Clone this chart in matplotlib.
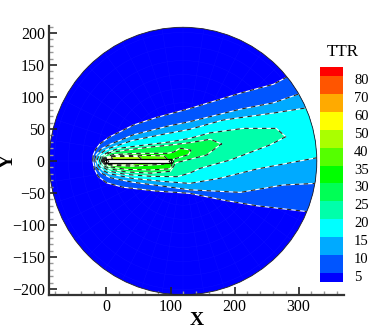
import numpy as np
import matplotlib
matplotlib.use("Agg")
import matplotlib.pyplot as plt
from matplotlib.patches import Circle, Rectangle
from matplotlib.ticker import MultipleLocator
from matplotlib.transforms import ScaledTranslation

plt.rcParams['font.family'] = ['Liberation Serif', 'DejaVu Serif']

legend_labels = [5, 10, 15, 20, 25, 30, 35, 40, 50, 60, 70, 80]
legend_colors = ['#0000ff', '#0055ff', '#00aaff', '#00ffff', '#00ffaa', '#00ff55', '#00ff00',
                 '#55ff00', '#aaff00', '#ffff00', '#ffaa00', '#ff5500', '#ff0000']

# contour boundaries (X, Y): upper side from nose to tail, then lower side back to nose
c5_x = [-21.6, -20.5, -17, -10, 5.5, 41.6, 78, 130, 209, 261, 283, 400, 400, 313, 235, 182, 130, 78, 26, 0, -13, -19, -21.6]
c5_y = [2, 10, 18, 27, 38, 56, 68, 82, 106, 120, 132, 170, -110, -79, -70, -61, -50.5, -47, -41, -34, -24, -12, 2]
c10_x = [-18.5, -16, -8, 5.5, 42, 98, 130, 209, 261, 301, 400, 400, 326, 276, 209, 130, 78, 40, 5.5, -8, -16, -18.5]
c10_y = [2, 10, 19, 26, 41, 55, 61.5, 81, 91, 105, 130, -35, -35, -37.5, -49, -45, -38, -33, -26, -19, -10, 2]
c15_x = [-15, -12, -5, 5, 40, 90, 130, 182, 261, 312, 400, 400, 328, 235, 177, 130, 90, 40, 5, -5, -12, -15]
c15_y = [1, 8, 15, 20, 32, 42, 49.5, 64, 75, 83, 95, 0, 5, -12.5, -27, -35, -32, -27, -20, -15, -8, 1]
c20_x = [-11, -8, 5, 20, 60, 100, 130, 162, 214, 265, 280, 255, 193, 146, 130, 110, 70, 30, 5, -8, -11]
c20_y = [1, 8, 15, 20, 25, 30, 35.4, 44, 51, 51, 38, 25, 1.5, -11.5, -19, -24.5, -24, -21, -16, -8, 1]
c25_x = [-8, -5, 5, 30, 70, 100, 130, 162, 180, 177, 156.5, 130, 108, 100, 70, 30, 5, -5, -8]
c25_y = [1, 7, 13, 17, 22, 25, 28.6, 34, 26.6, 25, 9.4, 2.6, -3, -16, -19, -17, -12, -7, 1]
c30_x = [-6, -3, 10, 50, 95, 105, 115, 132, 128, 105, 100, 70, 30, 5, -3, -6]
c30_y = [1, 5, 10, 12, 12, 14, 20, 17, 10, 3, -12, -14, -13, -9, -5, 1]
c35_x = [-5, -2, 10, 50, 90, 95, 90, 40, 10, -2, -5]
c35_y = [1, 4, 8, 9, 8, 3, -5, -8, -7, -4, 1]
c40_x = [-5, -2, 10, 50, 55, 40, 10, -2, -5]
c40_y = [1, 4, 7, 7, 3, -6, -6, -4, 1]
c50_x = [-5, -2, 8, 12, 8, -2, -5]
c50_y = [0, 4, 5, 0, -5, -4, 0]
c60_x = [-7, -4, 0, 2, 0, -4, -7]
c60_y = [0, 5, 6, 0, -6, -5, 0]
c70_x = [-6, -4, 0, 1, 0, -4, -6]
c70_y = [0, 4, 4, 0, -4, -4, 0]
c80_x = [-5, -3, -1, -3, -5]
c80_y = [0, 3, 0, -3, 0]

contours = [(c5_x, c5_y), (c10_x, c10_y), (c15_x, c15_y), (c20_x, c20_y), (c25_x, c25_y),
            (c30_x, c30_y), (c35_x, c35_y), (c40_x, c40_y), (c50_x, c50_y), (c60_x, c60_y),
            (c70_x, c70_y), (c80_x, c80_y)]

circle_center = (119.5, 0)
circle_radius = 209
plate_x = [-1, 101]
plate_half = 2.5

fig = plt.figure(figsize=(3.74, 3.32), dpi=100)
ax = fig.add_axes([49/374, (332-295)/332, 295/374, 269/332])
ax.set_xlim(-89.8, 371)
ax.set_ylim(-209.4, 211)
ax.patch.set_visible(False)

disk = Circle(circle_center, circle_radius, fc=legend_colors[0], ec='none', zorder=1)
ax.add_patch(disk)

# faint mesh
for r in np.arange(25, circle_radius, 22):
    ax.add_patch(Circle(circle_center, r, fc='none', ec='#0d0dff', lw=0.3, zorder=1.1))
for a in np.arange(0, 360, 9):
    ax.plot([circle_center[0], circle_center[0] + circle_radius*np.cos(np.radians(a))],
            [0, circle_radius*np.sin(np.radians(a))], color='#0d0dff', lw=0.3, zorder=1.1)

z = 2
for (cx, cy), col in zip(contours, legend_colors[1:]):
    p = ax.fill(cx, cy, color=col, ec='none', zorder=z)[0]
    p.set_clip_path(disk)
    z += 0.01
for cx, cy in contours:
    a, = ax.plot(cx, cy, color='white', lw=0.8, zorder=3)
    b, = ax.plot(cx, cy, color='#222222', lw=0.8, ls=(0, (4, 4)), zorder=3.1)
    a.set_clip_path(disk)
    b.set_clip_path(disk)

ax.add_patch(Circle(circle_center, circle_radius, fc='none', ec='#222222', lw=0.6, zorder=4))
ax.add_patch(Rectangle((plate_x[0], -plate_half), plate_x[1]-plate_x[0], 2*plate_half,
                       fc='white', ec='black', lw=0.9, zorder=5))
ax.plot(plate_x, [0, 0], ls='none', marker='D', ms=2.5, mfc='none', mec='black', mew=0.6, zorder=5)

for s in ['top', 'right']:
    ax.spines[s].set_visible(False)
for s in ['left', 'bottom']:
    ax.spines[s].set_linewidth(1.6)
    ax.spines[s].set_color('#333333')
ax.xaxis.set_major_locator(MultipleLocator(100))
ax.xaxis.set_minor_locator(MultipleLocator(20))
ax.yaxis.set_major_locator(MultipleLocator(50))
ax.yaxis.set_minor_locator(MultipleLocator(10))
ax.tick_params(which='major', direction='in', length=6, width=1.2, color='#222222',
               labelsize=11.5, pad=3)
ax.tick_params(which='minor', direction='in', length=3, width=1.0, color='#999999')
ax.set_xlabel('X', fontsize=14, fontweight='bold', labelpad=-2)
ax.set_ylabel('Y', fontsize=14, fontweight='bold')
ax.yaxis.set_label_coords((17-49)/295, 0.5)

# legend
cax = fig.add_axes([320/374, (332-282)/332, 23/374, 215/332])
edges = np.arange(len(legend_labels) + 2, dtype=float)
edges[0] = 0.5
edges[-1] = len(legend_labels) + 0.5
for i, col in enumerate(legend_colors):
    cax.barh(edges[i], 1, height=edges[i+1]-edges[i], align='edge', color=col, lw=0)
cax.set_xlim(0, 1)
cax.set_ylim(0.5, len(legend_labels) + 0.5)
cax.set_xticks([])
cax.yaxis.tick_right()
cax.set_yticks(np.arange(1, len(legend_labels) + 1))
cax.set_yticklabels(legend_labels, fontsize=10.5)
cax.tick_params(axis='y', length=0, pad=8)
shift = ScaledTranslation(0, -3/100, fig.dpi_scale_trans)
for lab in cax.get_yticklabels():
    lab.set_transform(lab.get_transform() + shift)
for s in cax.spines.values():
    s.set_visible(False)
fig.text(343/374, 1-52/332, 'TTR', fontsize=12.3, ha='center', va='center')

fig.savefig('out.png', dpi=100)
